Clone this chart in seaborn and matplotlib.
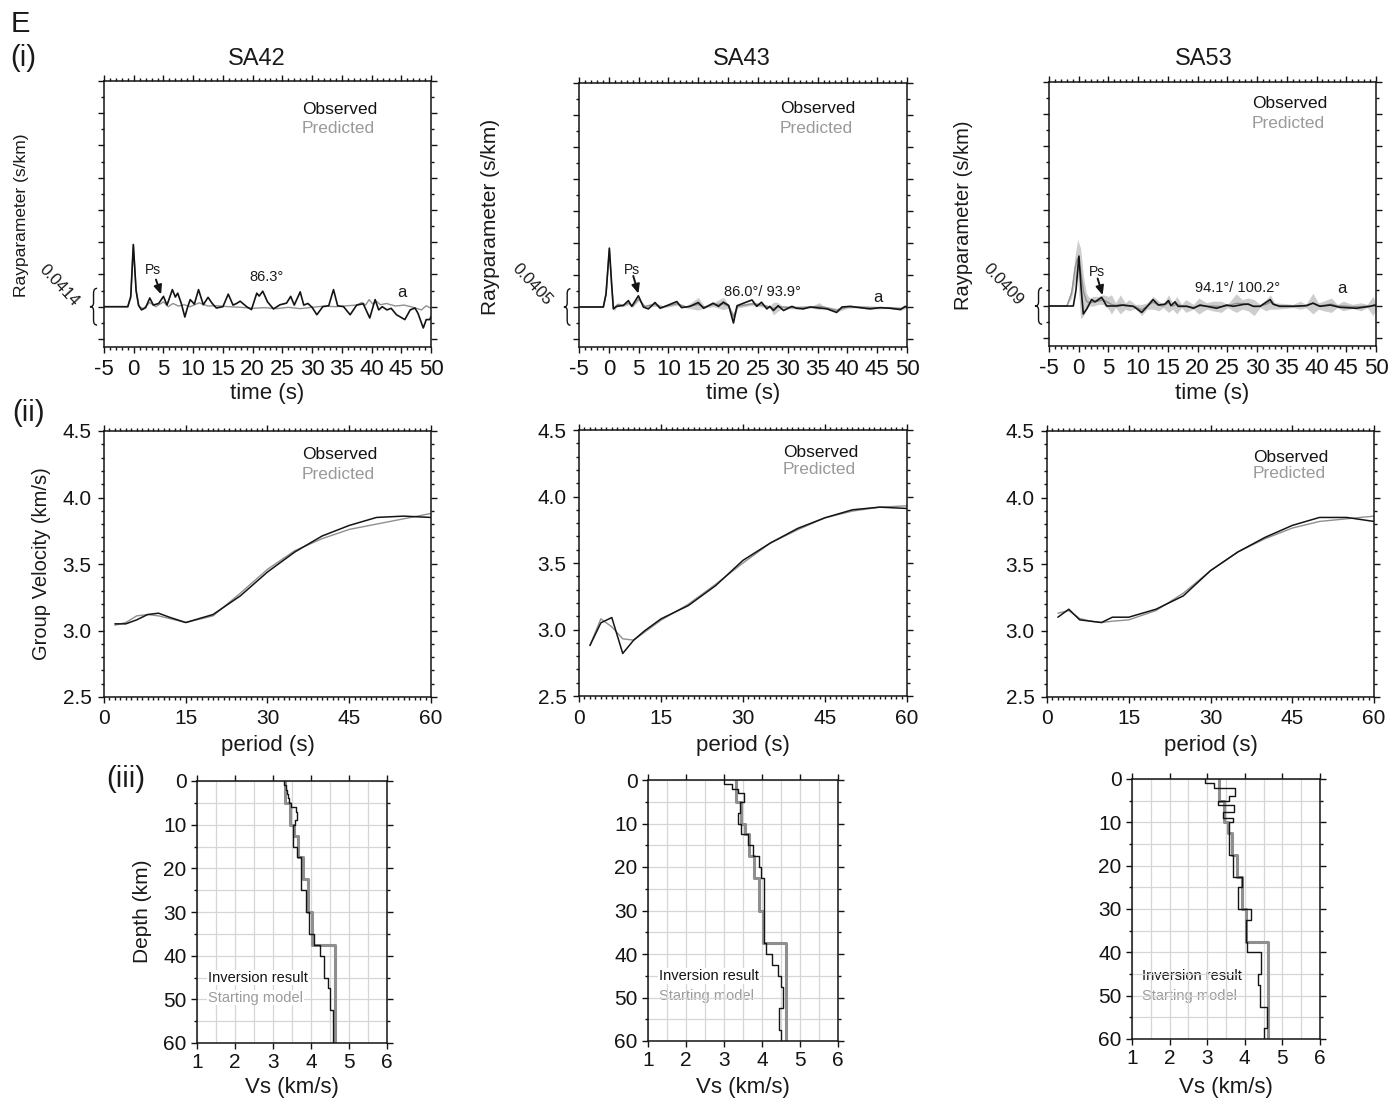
import numpy as np
import matplotlib
matplotlib.use("Agg")
import matplotlib.pyplot as plt
import matplotlib.transforms as mtransforms
from matplotlib.path import Path
from matplotlib.patches import PathPatch
from matplotlib.ticker import MultipleLocator, NullFormatter, FormatStrFormatter
import seaborn as sns

sns.set_theme(style="ticks")
plt.rcParams['font.family'] = ['Liberation Sans', 'DejaVu Sans']
plt.rcParams['axes.linewidth'] = 1.1
plt.rcParams['axes.edgecolor'] = '#1a1a1a'
plt.rcParams['xtick.color'] = '#1a1a1a'
plt.rcParams['ytick.color'] = '#1a1a1a'
plt.rcParams['text.color'] = '#1a1a1a'
plt.rcParams['axes.unicode_minus'] = False

# ---------------- DATA ----------------
stations = ["SA42", "SA43", "SA53"]
ray_params = ["0.0414", "0.0405", "0.0409"]
baz_labels = ["86.3°", "86.0°/ 93.9°", "94.1°/ 100.2°"]

# Receiver functions: (time s, amplitude)
rf_obs_sa42 = [(-5, 0), (-1.0, 0), (-0.5, 0.3), (-0.07, 1.93), (0.4, 0.5), (0.8, 0.05), (1.3, -0.1), (2.0, -0.03),
               (2.7, 0.27), (3.3, 0.05), (4.2, 0.1), (5.0, 0.32), (5.6, 0.05), (6.5, 0.53), (7.0, 0.3), (7.4, 0.42),
               (8.0, 0.1), (8.6, -0.32), (9.0, -0.05), (9.5, 0.22), (10.2, 0.08), (10.9, 0.53), (11.7, 0.06),
               (12.5, 0.29), (13.2, 0.1), (13.9, -0.04), (15.0, 0.0), (15.9, 0.39), (16.7, 0.05), (17.3, 0.1),
               (17.9, 0.17), (19.0, 0.0), (19.8, -0.09), (20.7, 0.42), (21.1, 0.33), (21.7, 0.48), (22.5, 0.15),
               (23.5, -0.07), (24.6, 0.06), (25.7, 0.11), (26.4, 0.32), (27.0, 0.05), (28.0, 0.46), (28.6, 0.05),
               (29.3, 0.1), (30.0, -0.02), (30.8, -0.25), (31.8, 0.0), (32.8, 0.03), (33.6, 0.53), (34.3, 0.03),
               (35.3, 0.0), (36.4, -0.25), (37.5, 0.05), (38.6, 0.09), (39.7, -0.35), (40.6, 0.22), (41.2, -0.1),
               (41.8, 0.0), (42.6, -0.1), (43.3, -0.05), (44.2, -0.25), (45.6, -0.4), (46.5, -0.1), (47.3, -0.04),
               (47.8, -0.2), (48.7, -0.66), (49.2, -0.4), (49.8, -0.4), (50, -0.3)]
rf_pre_sa42 = [(-5, 0, 0, 0), (-1.0, 0, 0, 0), (-0.5, 0.35, 0.35, 0.35), (-0.05, 1.9, 1.9, 1.9), (0.4, 0.5, 0.5, 0.5),
               (0.9, 0.0, 0, 0), (1.6, -0.06, -0.06, -0.06), (2.7, 0.13, 0.13, 0.13), (3.7, 0.0, 0, 0),
               (5.0, 0.15, 0.15, 0.15), (5.8, 0.0, 0, 0), (6.6, 0.1, 0.1, 0.1), (7.5, 0.02, 0.02, 0.02),
               (8.5, 0.06, 0.06, 0.06), (9.5, 0.0, 0, 0), (11.0, 0.12, 0.12, 0.12), (12.5, 0.02, 0.02, 0.02),
               (14.0, 0.03, 0.03, 0.03), (16.0, 0.0, 0, 0), (18.0, -0.02, -0.02, -0.02), (20.0, -0.05, -0.05, -0.05),
               (22.0, -0.03, -0.03, -0.03), (24.0, -0.06, -0.06, -0.06), (26.0, -0.02, -0.02, -0.02),
               (28.0, -0.06, -0.06, -0.06), (30.0, -0.02, -0.02, -0.02), (32.0, 0.02, 0.02, 0.02), (34.0, 0.0, 0, 0),
               (36.0, 0.03, 0.03, 0.03), (37.5, 0.05, 0.05, 0.05), (38.4, 0.13, 0.13, 0.13), (39.0, 0.05, 0.05, 0.05),
               (39.6, 0.22, 0.22, 0.22), (40.2, 0.08, 0.08, 0.08), (40.8, 0.17, 0.17, 0.17), (41.5, 0.06, 0.06, 0.06),
               (42.5, 0.1, 0.1, 0.1), (44.0, 0.02, 0.02, 0.02), (45.5, 0.05, 0.05, 0.05), (47.0, -0.02, -0.02, -0.02),
               (48.4, -0.1, -0.1, -0.1), (49.2, 0.03, 0.03, 0.03), (50, -0.05, -0.05, -0.05)]

rf_obs_sa43 = [(-5, 0), (-0.92, 0), (-0.47, 0.4), (0.09, 1.84), (0.48, 0.7), (0.76, -0.06), (1.32, 0.02), (2.44, 0.05),
               (3.28, 0.2), (3.84, 0.02), (4.96, 0.35), (5.8, 0.0), (6.63, -0.06), (7.75, 0.14), (8.6, -0.04),
               (9.7, 0.04), (11.4, 0.17), (12.2, -0.02), (13.6, 0.02), (15.0, 0.14), (15.9, -0.04), (17.5, 0.12),
               (18.4, 0.02), (19.2, 0.15), (20.1, 0.05), (20.9, -0.5), (21.5, 0.04), (22.6, 0.12), (24.0, 0.22),
               (24.8, 0.02), (25.6, 0.15), (26.5, -0.06), (27.0, 0.02), (27.6, -0.11), (28.4, 0.04), (29.3, -0.11),
               (30.7, 0.02), (31.5, -0.04), (32.6, -0.06), (33.8, 0.0), (36.6, -0.06), (38.2, -0.17), (39.1, 0.0),
               (40.5, 0.02), (42.1, -0.02), (43.8, -0.06), (45.5, -0.02), (47.2, -0.04), (48.9, -0.08), (49.7, 0.02),
               (50, 0.0)]
# (time, predicted, band low, band high)
rf_pre_sa43 = [(-5, 0, 0, 0), (-0.9, 0, 0, 0), (-0.45, 0.45, 0.39, 0.51), (0.09, 1.8, 1.7, 1.9), (0.5, 0.6, 0.52, 0.68),
               (0.8, -0.05, -0.13, 0.03), (1.5, 0.08, 0.03, 0.13), (2.4, 0.05, 0.01, 0.09), (3.3, 0.12, 0.07, 0.17),
               (4.0, 0.03, -0.01, 0.07), (5.0, 0.25, 0.2, 0.3), (6.0, 0.02, -0.02, 0.06), (7.75, 0.08, 0.02, 0.14),
               (9.0, 0.0, -0.03, 0.03), (11.4, 0.1, 0.05, 0.15), (13.0, 0.0, -0.03, 0.03), (15.0, 0.08, -0.1, 0.3),
               (16.0, 0.0, -0.03, 0.03), (17.5, 0.07, 0.01, 0.13), (19.2, 0.1, -0.08, 0.3), (20.1, 0.02, -0.03, 0.07),
               (20.9, -0.3, -0.4, -0.2), (21.6, 0.02, -0.03, 0.07), (24.0, 0.1, 0.05, 0.15), (25.6, 0.06, 0.0, 0.12),
               (27.0, 0.0, -0.03, 0.03), (27.6, -0.05, -0.25, 0.15), (28.2, 0.0, -0.15, 0.15), (29.0, 0.0, -0.05, 0.05),
               (31.0, -0.02, -0.06, 0.02), (34.0, 0.0, -0.03, 0.03), (35.3, 0.02, -0.08, 0.14), (36.0, 0.0, -0.03, 0.03),
               (38.2, -0.1, -0.16, -0.04), (40.0, 0.0, -0.04, 0.04), (42.0, 0.0, -0.03, 0.03), (45.0, -0.02, -0.06, 0.02),
               (47.0, -0.02, -0.05, 0.01), (49.0, -0.05, -0.1, 0.0), (50, 0.0, -0.03, 0.03)]

rf_obs_sa53 = [(-5, 0), (-0.91, 0), (-0.46, 0.5), (0.04, 1.56), (0.38, 0.6), (0.77, -0.25), (1.33, -0.1), (2.17, 0.2),
               (2.73, 0.13), (3.86, 0.27), (4.7, 0.0), (6.4, 0.0), (7.5, 0.03), (9.2, -0.01), (10.6, -0.2), (11.4, -0.04),
               (12.5, 0.2), (13.4, 0.03), (14.5, 0.06), (15.1, 0.17), (15.5, 0.01), (16.2, 0.13), (16.7, -0.01),
               (18.2, -0.01), (19.3, -0.07), (20.4, 0.03), (21.5, -0.01), (23.2, -0.07), (24.9, 0.03), (26.0, -0.01),
               (27.7, 0.05), (28.5, 0.06), (29.4, -0.01), (30.5, -0.01), (32.2, 0.2), (32.7, 0.06), (33.8, -0.01),
               (36.1, -0.01), (38.3, 0.01), (39.4, 0.09), (40.6, -0.01), (42.3, 0.03), (43.9, -0.04), (46.7, -0.07),
               (49.0, -0.01), (49.8, 0.03), (50, 0.0)]
rf_pre_sa53 = [(-5, 0, 0, 0), (-2.0, 0, 0, 0.02), (-1.2, 0.4, 0.25, 0.6), (-0.6, 1.2, 0.8, 1.6), (-0.18, 1.5, 0.9, 2.08),
               (0.32, 1.1, -0.4, 1.8), (0.8, 0.45, -0.3, 0.9), (1.3, 0.15, -0.1, 0.4), (1.8, 0.1, 0.0, 0.25),
               (2.45, 0.12, 0.0, 0.3), (3.3, 0.15, 0.05, 0.3), (4.1, 0.2, 0.05, 0.35), (5.0, 0.1, -0.1, 0.3),
               (5.5, 0.05, -0.25, 0.35), (6.2, 0.02, -0.05, 0.1), (7.0, 0.05, -0.25, 0.35), (7.8, 0.0, -0.1, 0.1),
               (8.5, 0.0, -0.15, 0.2), (9.5, -0.02, -0.08, 0.05), (10.6, -0.12, -0.3, 0.05), (11.5, 0.0, -0.1, 0.1),
               (12.5, 0.12, -0.1, 0.3), (13.5, 0.02, -0.15, 0.15), (14.2, 0.0, -0.05, 0.05), (15.1, 0.1, -0.2, 0.35),
               (15.8, 0.0, -0.1, 0.1), (16.5, 0.06, -0.25, 0.3), (17.3, 0.0, -0.05, 0.05), (18.0, 0.0, -0.2, 0.2),
               (19.3, -0.04, -0.1, 0.05), (20.2, 0.0, -0.25, 0.25), (21.5, 0.0, -0.1, 0.1), (22.5, 0.0, -0.15, 0.15),
               (24.0, -0.02, -0.2, 0.15), (25.0, 0.0, -0.05, 0.05), (26.5, 0.08, -0.2, 0.38), (27.5, 0.08, -0.1, 0.2),
               (28.5, 0.05, -0.15, 0.25), (29.5, -0.02, -0.3, 0.2), (30.5, 0.0, -0.05, 0.05), (31.5, 0.05, -0.15, 0.2),
               (32.2, 0.12, -0.1, 0.35), (33.0, 0.02, -0.1, 0.1), (34.5, 0.0, -0.08, 0.08), (36.0, 0.0, -0.05, 0.05),
               (37.3, 0.0, -0.1, 0.15), (38.2, 0.02, -0.05, 0.05), (39.4, 0.08, -0.25, 0.4), (40.3, 0.0, -0.1, 0.1),
               (41.2, 0.02, -0.15, 0.15), (42.5, 0.06, -0.2, 0.25), (43.5, 0.0, -0.05, 0.05), (44.5, 0.0, -0.15, 0.15),
               (46.0, -0.02, -0.08, 0.05), (47.5, -0.02, -0.15, 0.1), (48.5, 0.0, -0.05, 0.05), (49.5, 0.0, -0.3, 0.3),
               (50, 0.0, -0.1, 0.1)]

# Surface-wave group velocity dispersion
periods = [2, 4, 6, 8, 10, 12, 15, 20, 25, 30, 35, 40, 45, 50, 55, 60]
gv_obs_sa42 = [3.05, 3.05, 3.08, 3.12, 3.13, 3.10, 3.06, 3.12, 3.26, 3.44, 3.59, 3.71, 3.79, 3.85, 3.86, 3.85]
gv_pre_sa42 = [3.04, 3.06, 3.11, 3.12, 3.11, 3.09, 3.06, 3.11, 3.28, 3.46, 3.60, 3.69, 3.76, 3.80, 3.84, 3.88]
gv_obs_sa43 = [2.88, 3.05, 3.09, 2.82, 2.92, 2.99, 3.08, 3.18, 3.33, 3.52, 3.65, 3.76, 3.84, 3.90, 3.92, 3.91]
gv_pre_sa43 = [2.88, 3.08, 3.02, 2.93, 2.92, 2.98, 3.07, 3.19, 3.34, 3.50, 3.65, 3.75, 3.84, 3.89, 3.92, 3.93]
gv_obs_sa53 = [3.10, 3.16, 3.08, 3.07, 3.06, 3.10, 3.10, 3.16, 3.26, 3.45, 3.59, 3.70, 3.79, 3.85, 3.85, 3.82]
gv_pre_sa53 = [3.13, 3.15, 3.09, 3.07, 3.06, 3.07, 3.08, 3.15, 3.28, 3.45, 3.59, 3.69, 3.77, 3.82, 3.84, 3.86]

# Shear-velocity models: layer top depth (km) and Vs (km/s)
start_top = [0, 5, 10, 12.5, 17.5, 22.5, 30, 37.5]
start_vs = [3.32, 3.46, 3.55, 3.67, 3.80, 3.92, 4.03, 4.62]
inv_top_sa42 = [0, 1, 2, 3, 4, 5, 6, 7, 9, 10, 15, 17.5, 25, 30, 35, 37.5, 40, 45, 47.5, 52.5]
inv_vs_sa42 = [3.30, 3.33, 3.36, 3.39, 3.42, 3.47, 3.60, 3.64, 3.58, 3.52, 3.62, 3.74, 3.86, 3.96, 4.08, 4.24, 4.35,
               4.44, 4.50, 4.57]
inv_top_sa43 = [0, 1, 2, 3, 5, 7.5, 10, 12.5, 15, 17.5, 20, 22.5, 37.5, 40, 42.5, 45, 47.5, 52.5, 57.5]
inv_vs_sa43 = [2.99, 3.22, 3.37, 3.53, 3.41, 3.37, 3.46, 3.63, 3.76, 3.92, 3.98, 4.04, 4.10, 4.27, 4.42, 4.51, 4.55,
               4.46, 4.51]
inv_top_sa53 = [0, 1, 2, 4, 5, 6, 7.5, 9, 10, 17.5, 22.5, 25, 30, 32.5, 37.5, 40, 45, 47.5, 52.5, 57.5]
inv_vs_sa53 = [2.95, 3.17, 3.73, 3.57, 3.30, 3.70, 3.43, 3.68, 3.57, 3.68, 3.92, 3.81, 4.16, 4.04, 4.06, 4.42, 4.35,
               4.41, 4.58, 4.52]
model_bottom = 60

# ---------------- LAYOUT ----------------
W, H = 1399, 1104
fig = plt.figure(figsize=(W / 100, H / 100), dpi=100)
fig.patch.set_facecolor('white')

def fx(px):
    return px / W

def fy(py):
    return 1 - py / H

def add_ax(l, t, r, b):
    return fig.add_axes([fx(l), fy(b), (r - l) / W, (b - t) / H])

BLACK = '#141414'
GRAY = '#8f8f8f'
TXTGRAY = '#9a9a9a'
BAND = '#cdcdcd'

rf_rects = [(104, 81, 431, 347), (579, 83, 907, 347), (1049, 82, 1376, 346)]
gv_rects = [(104, 431, 431, 697), (579, 430, 907, 696), (1047, 431, 1374, 697)]
vs_rects = [(197, 781, 387, 1043), (648, 780, 838, 1041), (1132, 779, 1320, 1039)]

rf_obs_all = [rf_obs_sa42, rf_obs_sa43, rf_obs_sa53]
rf_pre_all = [rf_pre_sa42, rf_pre_sa43, rf_pre_sa53]
gv_obs_all = [gv_obs_sa42, gv_obs_sa43, gv_obs_sa53]
gv_pre_all = [gv_pre_sa42, gv_pre_sa43, gv_pre_sa53]
inv_top_all = [inv_top_sa42, inv_top_sa43, inv_top_sa53]
inv_vs_all = [inv_vs_sa42, inv_vs_sa43, inv_vs_sa53]

title_x = [257, 742, 1204]
ylab_rf = [(22, 215, 12.5), (490, 217, 15), (963, 215, 14.5)]
leg_rf = [(28.3, 6.12, 5.53), (28.7, 6.21, 5.59), (29.1, 6.34, 5.71)]
leg_gv = [(36.3, 4.32, 4.17), (37.3, 4.33, 4.20), (37.8, 4.30, 4.18)]
leg_vs = [(1.29, 45.0, 49.6), (1.29, 45.1, 49.7), (1.27, 45.4, 50.0)]
leg_vs_box = [(True, True), (True, False), (False, False)]
ray_pos = [(-0.138, 0.65), (-0.143, 0.71), (-0.141, 0.68)]
brace_x = [(-0.043, -0.032, -0.021), (-0.046, -0.036, -0.026), (-0.043, -0.032, -0.021)]
ps_text = [(3.3, 1.15), (3.84, 1.16), (3.0, 1.05)]
ps_arrow = [((3.74, 0.84), (4.6, 0.38)), ((4.1, 0.97), (4.96, 0.42)), ((3.18, 0.86), (4.02, 0.34))]
baz_pos = [(22.4, 0.91), (25.8, 0.46), (26.7, 0.55)]
a_pos = [(45.1, 0.45), (45.2, 0.30), (44.2, 0.55)]

def style_frame(ax, maj=4.0, mino=2.2):
    for s in ax.spines.values():
        s.set_linewidth(1.1)
        s.set_color(BLACK)
    ax.tick_params(which='both', direction='out', top=True, right=True, width=1.0, colors=BLACK)
    ax.tick_params(which='major', length=maj)
    ax.tick_params(which='minor', length=mino)


def step_profile(tops, vs, bottom):
    ys, xs = [], []
    edges = list(tops) + [bottom]
    for i, v in enumerate(vs):
        ys += [edges[i], edges[i + 1]]
        xs += [v, v]
    return np.array(xs), np.array(ys)

# ---------------- ROW (i): receiver functions ----------------
for i in range(3):
    ax = add_ax(*rf_rects[i])
    obs = np.array(rf_obs_all[i])
    pre = np.array(rf_pre_all[i])
    ax.fill_between(pre[:, 0], pre[:, 2], pre[:, 3], color=BAND, lw=0, zorder=1)
    sns.lineplot(x=pre[:, 0], y=pre[:, 1], ax=ax, color=GRAY, linewidth=1.0, sort=False, estimator=None, zorder=2)
    sns.lineplot(x=obs[:, 0], y=obs[:, 1], ax=ax, color=BLACK, linewidth=1.2, sort=False, estimator=None, zorder=3)
    ax.set_xlim(-5, 50)
    ax.set_ylim(-1.25, 7.0)
    ax.xaxis.set_major_locator(MultipleLocator(5))
    ax.xaxis.set_minor_locator(MultipleLocator(1))
    ax.yaxis.set_major_locator(MultipleLocator(1))
    ax.yaxis.set_minor_locator(MultipleLocator(0.5))
    ax.yaxis.set_major_formatter(NullFormatter())
    style_frame(ax)
    ax.tick_params(axis='x', labelsize=16, pad=4.5)
    ax.set_xlabel('')
    ax.set_ylabel('')
    lx, ly1, ly2 = leg_rf[i]
    ax.text(lx, ly1, 'Observed', color=BLACK, fontsize=12.5, va='center', ha='left')
    ax.text(lx, ly2, 'Predicted', color=TXTGRAY, fontsize=12.5, va='center', ha='left')
    ax.text(*ps_text[i], 'Ps', fontsize=10, ha='center', va='center')
    (t0, a0), (t1, a1) = ps_arrow[i]
    ax.annotate('', xy=(t1, a1), xytext=(t0, a0),
                arrowprops=dict(arrowstyle='-|>,head_length=0.45,head_width=0.2', color=BLACK, lw=1.4,
                                shrinkA=0, shrinkB=0))
    ax.text(*baz_pos[i], baz_labels[i], fontsize=10.5, ha='center', va='center')
    ax.text(*a_pos[i], 'a', fontsize=12, ha='center', va='center')
    blend = mtransforms.blended_transform_factory(ax.transAxes, ax.transData)
    rx, ry = ray_pos[i]
    ax.text(rx, ry, ray_params[i], transform=blend, rotation=-47, fontsize=12, ha='center', va='center',
            rotation_mode='anchor', clip_on=False)
    x0, xm, x1 = brace_x[i]
    yt, yb = 0.57, -0.57
    verts = [(x1, yt), (xm, yt), (xm, yt - 0.15), (xm, 0.12), (xm, 0.0), (x0, 0.0),
             (xm, 0.0), (xm, -0.12), (xm, yb + 0.15), (xm, yb), (x1, yb)]
    codes = [Path.MOVETO, Path.CURVE3, Path.CURVE3, Path.LINETO, Path.CURVE3, Path.CURVE3,
             Path.CURVE3, Path.CURVE3, Path.LINETO, Path.CURVE3, Path.CURVE3]
    ax.add_patch(PathPatch(Path(verts, codes), transform=blend, fill=False, lw=1.0, color=BLACK, clip_on=False))
    cx = (rf_rects[i][0] + rf_rects[i][2]) / 2
    fig.text(fx(title_x[i]), fy(65), stations[i], fontsize=17, ha='center', va='baseline')
    fig.text(fx(cx), fy(393), 'time (s)', fontsize=16, ha='center', va='center')
    yx, yy, ys = ylab_rf[i]
    fig.text(fx(yx), fy(yy), 'Rayparameter (s/km)', fontsize=ys, rotation=90, ha='center', va='center')

# ---------------- ROW (ii): group velocity ----------------
for i in range(3):
    ax = add_ax(*gv_rects[i])
    sns.lineplot(x=periods, y=gv_pre_all[i], ax=ax, color=GRAY, linewidth=1.0, sort=False, estimator=None, zorder=2)
    sns.lineplot(x=periods, y=gv_obs_all[i], ax=ax, color=BLACK, linewidth=1.1, sort=False, estimator=None, zorder=3)
    ax.set_xlim(0, 60)
    ax.set_ylim(2.5, 4.5)
    ax.xaxis.set_major_locator(MultipleLocator(15))
    ax.xaxis.set_minor_locator(MultipleLocator(1))
    ax.yaxis.set_major_locator(MultipleLocator(0.5))
    ax.yaxis.set_minor_locator(MultipleLocator(0.1))
    ax.yaxis.set_major_formatter(FormatStrFormatter('%.1f'))
    style_frame(ax)
    ax.tick_params(axis='both', labelsize=15, pad=5)
    ax.set_xlabel('')
    ax.set_ylabel('')
    lx, ly1, ly2 = leg_gv[i]
    ax.text(lx, ly1, 'Observed', color=BLACK, fontsize=12.5, va='center', ha='left')
    ax.text(lx, ly2, 'Predicted', color=TXTGRAY, fontsize=12.5, va='center', ha='left')
    cx = (gv_rects[i][0] + gv_rects[i][2]) / 2
    fig.text(fx(cx), fy(745), 'period (s)', fontsize=16, ha='center', va='center')
fig.text(fx(42), fy(564), 'Group Velocity (km/s)', fontsize=14.5, rotation=90, ha='center', va='center')

# ---------------- ROW (iii): Vs models ----------------
for i in range(3):
    ax = add_ax(*vs_rects[i])
    ax.set_axisbelow(True)
    sx, sy = step_profile(start_top, start_vs, model_bottom)
    ix, iy = step_profile(inv_top_all[i], inv_vs_all[i], model_bottom)
    sns.lineplot(x=sx, y=sy, ax=ax, color=GRAY, linewidth=2.2, sort=False, estimator=None, zorder=2)
    sns.lineplot(x=ix, y=iy, ax=ax, color=BLACK, linewidth=1.0, sort=False, estimator=None, zorder=3)
    ax.set_xlim(1, 6)
    ax.set_ylim(60, 0)
    ax.xaxis.set_major_locator(MultipleLocator(1))
    ax.xaxis.set_minor_locator(MultipleLocator(0.5))
    ax.yaxis.set_major_locator(MultipleLocator(10))
    ax.yaxis.set_minor_locator(MultipleLocator(5))
    ax.grid(which='both', color='#d6d6d6', linewidth=0.9)
    style_frame(ax)
    ax.tick_params(axis='x', which='minor', length=0)
    ax.tick_params(axis='both', labelsize=15, pad=3.5)
    ax.set_xlabel('')
    ax.set_ylabel('')
    lx, ly1, ly2 = leg_vs[i]
    b1, b2 = leg_vs_box[i]
    box = dict(facecolor='white', edgecolor='none', pad=0.6)
    ax.text(lx, ly1, 'Inversion result', color=BLACK, fontsize=10.5, va='center', ha='left',
            zorder=1.5 if b1 else 0.4, bbox=box if b1 else None)
    ax.text(lx, ly2, 'Starting model', color=TXTGRAY, fontsize=10.5, va='center', ha='left',
            zorder=1.5 if b2 else 0.4, bbox=box if b2 else None)
    cx = (vs_rects[i][0] + vs_rects[i][2]) / 2
    fig.text(fx(cx), fy(1087), 'Vs (km/s)', fontsize=16, ha='center', va='center')
fig.text(fx(143), fy(911), 'Depth (km)', fontsize=15, rotation=90, ha='center', va='center')

# panel letters
fig.text(fx(11), fy(32), 'E', fontsize=21, ha='left', va='baseline')
fig.text(fx(10), fy(66), '(i)', fontsize=21, ha='left', va='baseline')
fig.text(fx(12), fy(421), '(ii)', fontsize=21, ha='left', va='baseline')
fig.text(fx(106), fy(787), '(iii)', fontsize=21, ha='left', va='baseline')

fig.savefig('out.png', dpi=100, facecolor='white')
